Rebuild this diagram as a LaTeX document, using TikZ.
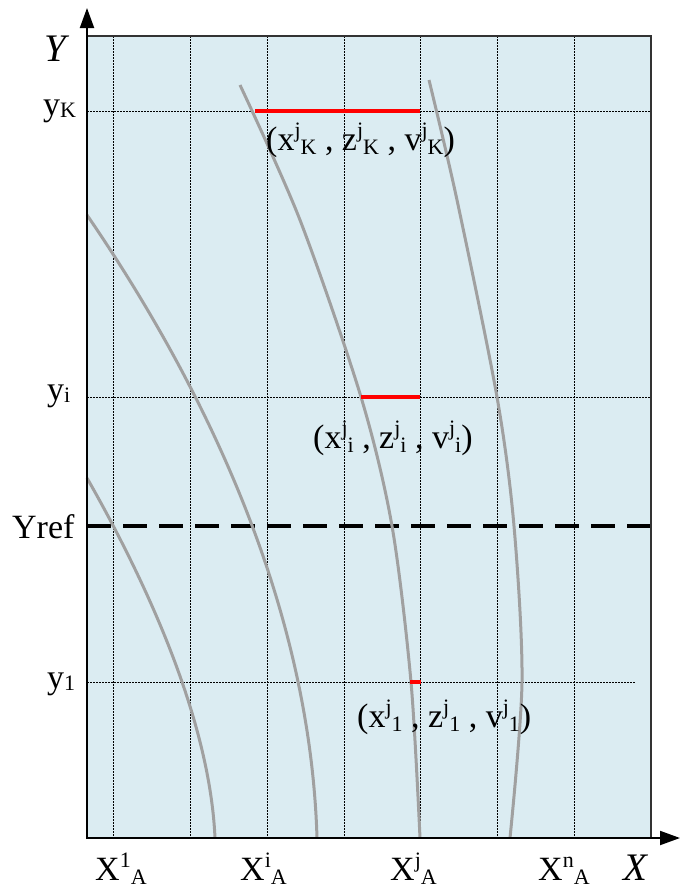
\documentclass[tikz,border=0pt]{standalone}
\usepackage{fontspec}
\setmainfont{Liberation Serif}
\usetikzlibrary{arrows.meta}
\definecolor{bgblue}{RGB}{219,236,242}
\definecolor{curvegray}{RGB}{160,160,160}
\newcommand\lbsz{\fontsize{34}{40}\selectfont}
\newcommand\bigsz{\fontsize{39}{44}\selectfont}
\newcommand\smsz{\fontsize{22}{24}\selectfont}
\newcommand\supsubx[3]{#1\raisebox{0.38em}{\smsz #2}\raisebox{-0.12em}{\smsz #3}}
\newcommand\subx[2]{#1\raisebox{-0.06em}{\smsz #2}}
\begin{document}
\begin{tikzpicture}[x=1pt,y=-1pt,
  gridline/.style={black,line width=0.9pt,dash pattern=on 1.5pt off 1.5pt},
  curve/.style={curvegray,line width=3pt},
  redseg/.style={red,line width=3.5pt},
  lbl/.style={font=\lbsz,inner sep=0pt,anchor=base west},
  axis/.style={black,line width=2pt,-{Triangle[length=20pt,width=14pt]}}]
\useasboundingbox (0,0) rectangle (680,889);
\fill[bgblue] (87,36) rectangle (651,838);
\foreach \x in {113,190,267,344,420,497,574}
  \draw[gridline] (\x,36) -- (\x,838);
\draw[gridline] (87,111) -- (651,111);
\draw[gridline] (87,397) -- (651,397);
\draw[gridline] (87,682) -- (636,682);
\draw[black,line width=3.5pt,dash pattern=on 24pt off 12pt] (87,526) -- (651,526);
% curves
\draw[curve] (87,478) .. controls (152,592) and (210,725) .. (215,838);
\draw[curve] (87,215) .. controls (200,380) and (310,600) .. (317,838);
\draw[curve] plot[smooth] coordinates {(240,85) (300,220) (361,397) (392,526) (411,682) (420,838)};
\draw[curve] plot[smooth] coordinates {(429,80) (457,200) (497,397) (514,526) (522,682) (510,838)};
% red segments
\draw[redseg] (255,111) -- (420,111);
\draw[redseg] (361,397) -- (420,397);
\draw[redseg] (410,682) -- (421,682);
% frame
\draw[black!80,line width=1.5pt] (87,36) -- (651,36) -- (651,838);
\draw[axis] (87,839) -- (87,8);
\draw[axis] (86,838) -- (680,838);
% labels
\node[lbl,font=\bigsz] (lY) at (44,61) {\textit{Y}};
\node[lbl] (lyK) at (43,115) {\subx{y}{K}};
\node[lbl] (lyi) at (47,400) {\subx{y}{i}};
\node[lbl] (lyref) at (12,538) {Yref};
\node[lbl] (ly1) at (47,688) {\subx{y}{1}};
\node[lbl] (ptK) at (266,150) {(\supsubx{x}{j}{K} , \supsubx{z}{j}{K} , \supsubx{v}{j}{K})};
\node[lbl] (pti) at (313,448) {(\supsubx{x}{j}{i} , \supsubx{z}{j}{i} , \supsubx{v}{j}{i})};
\node[lbl] (pt1) at (357,727) {(\supsubx{x}{j}{1} , \supsubx{z}{j}{1} , \supsubx{v}{j}{1})};
\node[lbl] (X1) at (95,880) {\supsubx{X}{1}{A}};
\node[lbl] (Xi) at (240,880) {\supsubx{X}{i}{A}};
\node[lbl] (Xj) at (390,880) {\supsubx{X}{j}{A}};
\node[lbl] (Xn) at (538,880) {\supsubx{X}{n}{A}};
\node[lbl,font=\bigsz] (lX) at (623,880) {\textit{X}};
\end{tikzpicture}
\end{document}
